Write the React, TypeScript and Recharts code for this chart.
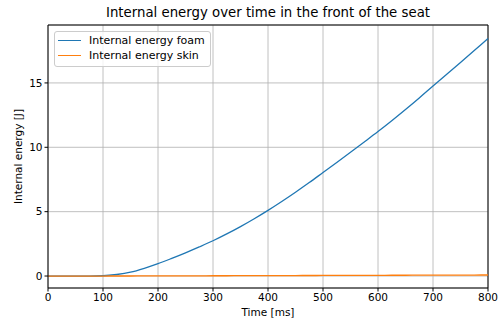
import React from "react";
import {
	CartesianGrid,
	Line,
	LineChart,
	ReferenceLine,
	XAxis,
	YAxis,
} from "recharts";

const times = [
	0, 25, 50, 75, 100, 125, 150, 175, 200, 225, 250, 275, 300, 325, 350, 375,
	400, 425, 450, 475, 500, 525, 550, 575, 600, 625, 650, 675, 700, 725, 750,
	775, 800,
];
const foamEnergy = [
	0, 0, 0, 0, 0.02, 0.12, 0.3, 0.6, 0.96, 1.37, 1.8, 2.26, 2.74, 3.27, 3.84,
	4.45, 5.1, 5.79, 6.51, 7.26, 8.04, 8.82, 9.61, 10.41, 11.22, 12.06, 12.93,
	13.83, 14.76, 15.67, 16.59, 17.52, 18.45,
];
const skinEnergy = [
	0, 0, 0, 0, 0, 0.002, 0.004, 0.006, 0.01, 0.012, 0.015, 0.018, 0.02, 0.023,
	0.026, 0.029, 0.032, 0.035, 0.038, 0.041, 0.044, 0.047, 0.05, 0.053, 0.056,
	0.059, 0.062, 0.065, 0.068, 0.071, 0.074, 0.077, 0.08,
];
const xTicks = [0, 100, 200, 300, 400, 500, 600, 700, 800];
const yTicks = [0, 5, 10, 15];

const data = times.map((t, i) => ({
	time: t,
	foam: foamEnergy[i],
	skin: skinEnergy[i],
}));

const FONT = "'DejaVu Sans', sans-serif";
const Y_MIN = -0.93;
const Y_MAX = 19.5;

function LegendBox() {
	const items = [
		{ label: "Internal energy foam", color: "#1f77b4" },
		{ label: "Internal energy skin", color: "#ff7f0e" },
	];
	return (
		<div
			style={{
				position: "absolute",
				left: 54,
				top: 31,
				width: 157,
				height: 36,
				border: "1px solid #cccccc",
				borderRadius: 3,
				background: "rgba(255,255,255,0.8)",
				fontFamily: FONT,
				fontSize: 11,
				color: "#000",
				boxSizing: "border-box",
			}}
		>
			{items.map((it, i) => (
				<div
					key={it.label}
					style={{
						position: "absolute",
						left: 3,
						top: 1 + i * 15.7,
						height: 14,
						display: "flex",
						alignItems: "center",
						whiteSpace: "nowrap",
					}}
				>
					<span
						style={{
							display: "inline-block",
							width: 23,
							height: 0,
							borderTop: `1.5px solid ${it.color}`,
							marginRight: 8,
						}}
					/>
					{it.label}
				</div>
			))}
		</div>
	);
}

export default function App() {
	return (
		<div style={{ position: "absolute", left: 0, top: 0, width: 501, height: 320 }}>
			<div
				style={{
					position: "absolute",
					left: 48,
					width: 440,
					top: 5,
					textAlign: "center",
					fontFamily: FONT,
					fontSize: 13.3,
					color: "#000",
				}}
			>
				Internal energy over time in the front of the seat
			</div>
			<LineChart
				width={501}
				height={320}
				data={data}
				margin={{ top: 25, right: 13, left: 0, bottom: 0 }}
			>
				<CartesianGrid stroke="#b0b0b0" strokeWidth={0.8} />
				<XAxis
					dataKey="time"
					type="number"
					domain={[0, 800]}
					ticks={xTicks}
					height={32}
					stroke="#000"
					tickSize={3.5}
					tick={{ fill: "#000", fontSize: 10.5, fontFamily: FONT }}
					label={{
						value: "Time [ms]",
						position: "insideBottom",
						offset: 4,
						fill: "#000",
						fontSize: 10.5,
						fontFamily: FONT,
					}}
				/>
				<YAxis
					type="number"
					domain={[Y_MIN, Y_MAX]}
					allowDataOverflow
					ticks={yTicks}
					width={48}
					stroke="#000"
					tickSize={3.5}
					tick={{ fill: "#000", fontSize: 10.5, fontFamily: FONT }}
					label={{
						value: "Internal energy [J]",
						angle: -90,
						position: "insideLeft",
						offset: 18,
						style: { textAnchor: "middle" },
						fill: "#000",
						fontSize: 10.5,
						fontFamily: FONT,
					}}
				/>
				<ReferenceLine y={Y_MAX} stroke="#000" strokeWidth={1} />
				<ReferenceLine x={800} stroke="#000" strokeWidth={1} />
				<Line
					type="monotone"
					dataKey="foam"
					stroke="#1f77b4"
					strokeWidth={1.3}
					dot={false}
					isAnimationActive={false}
				/>
				<Line
					type="monotone"
					dataKey="skin"
					stroke="#ff7f0e"
					strokeWidth={1.3}
					dot={false}
					isAnimationActive={false}
				/>
			</LineChart>
			<LegendBox />
		</div>
	);
}
